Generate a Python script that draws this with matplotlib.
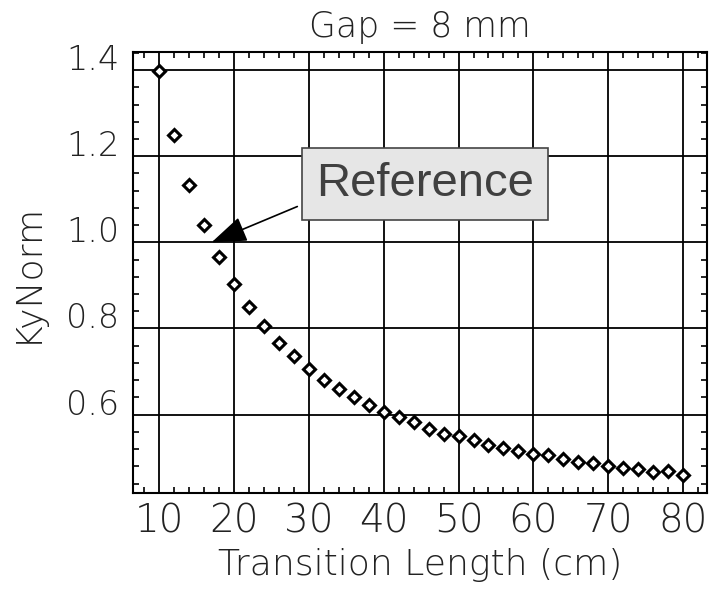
import matplotlib
matplotlib.use("Agg")
import matplotlib.pyplot as plt
from matplotlib.ticker import MultipleLocator, FixedLocator

# ---- data ----
transition_length = [10, 12, 14, 16, 18, 20, 22, 24, 26, 28, 30, 32, 34, 36, 38, 40,
                     42, 44, 46, 48, 50, 52, 54, 56, 58, 60, 62, 64, 66, 68, 70, 72,
                     74, 76, 78, 80]
ky_norm = [1.398, 1.250, 1.134, 1.040, 0.966, 0.903, 0.850, 0.805, 0.767, 0.735,
           0.705, 0.681, 0.660, 0.640, 0.622, 0.606, 0.594, 0.582, 0.567, 0.555,
           0.550, 0.541, 0.530, 0.523, 0.516, 0.509, 0.506, 0.497, 0.491, 0.488,
           0.480, 0.476, 0.474, 0.467, 0.470, 0.460]
x_ticks = [10, 20, 30, 40, 50, 60, 70, 80]
x_tick_labels = ["10", "20", "30", "40", "50", "60", "70", "80"]
y_ticks = [0.6, 0.8, 1.0, 1.2, 1.4]
y_tick_labels = ["0.6", "0.8", "1.0", "1.2", "1.4"]
title_text = "Gap = 8 mm"
x_label = "Transition Length (cm)"
y_label = "KyNorm"
annot_text = "Reference"
annot_point = (17, 1.0)
annot_text_pos = (45.5, 1.136)

FONT = ["DejaVu Sans"]
W = 200
TXT = "#222222"

fig = plt.figure(figsize=(7.1, 5.9), dpi=100)
ax = fig.add_axes([133 / 710, 1 - 493 / 590, (707 - 133) / 710, (493 - 52) / 590])

ax.plot(transition_length, ky_norm, linestyle="none", marker="D", markersize=6.3,
        markerfacecolor="white", markeredgecolor="black", markeredgewidth=2.2, zorder=3)

ax.set_xlim(6.5, 83.2)
ax.set_ylim(0.418, 1.442)

ax.xaxis.set_major_locator(FixedLocator(x_ticks))
ax.set_xticklabels(x_tick_labels)
ax.yaxis.set_major_locator(FixedLocator(y_ticks))
ax.set_yticklabels(y_tick_labels)
ax.xaxis.set_minor_locator(MultipleLocator(2))
ax.yaxis.set_minor_locator(MultipleLocator(0.04))

ax.grid(True, which="major", color="black", linewidth=1.3)
for s in ax.spines.values():
    s.set_linewidth(1.5)
    s.set_color("black")

ax.tick_params(which="major", length=0)
ax.tick_params(which="minor", direction="in", length=4.5, width=1.2,
               top=True, right=True, bottom=True, left=True)
ax.tick_params(axis="x", which="major", pad=7)
ax.tick_params(axis="y", which="major", pad=10)

for lab in ax.get_xticklabels():
    lab.set_fontfamily(FONT)
    lab.set_fontweight(W)
    lab.set_fontsize(28)
    lab.set_color(TXT)
for lab in ax.get_yticklabels():
    lab.set_fontfamily(FONT)
    lab.set_fontweight(W)
    lab.set_fontsize(24)
    lab.set_color(TXT)
    lab.set_verticalalignment("baseline")

ax.set_title(title_text, fontsize=25, family=FONT, fontweight=W, color=TXT, pad=11)
ax.set_xlabel(x_label, fontsize=26, family=FONT, fontweight=W, color=TXT, labelpad=5)
ax.set_ylabel(y_label, fontsize=26, family=FONT, fontweight=W, color=TXT, labelpad=16)

ax.annotate(annot_text, xy=annot_point, xytext=annot_text_pos,
            ha="center", va="center", fontsize=34, color="#404040",
            family=["Liberation Sans", "DejaVu Sans"],
            bbox=dict(boxstyle="square,pad=0.3", fc="#e6e6e6", ec="#444444", lw=1.2),
            arrowprops=dict(arrowstyle="-|>,head_length=1.1,head_width=0.4",
                            mutation_scale=20, color="black", lw=1.2,
                            relpos=(0, 0.16), shrinkA=3, shrinkB=0),
            zorder=5)

fig.savefig("out.png", dpi=100)
